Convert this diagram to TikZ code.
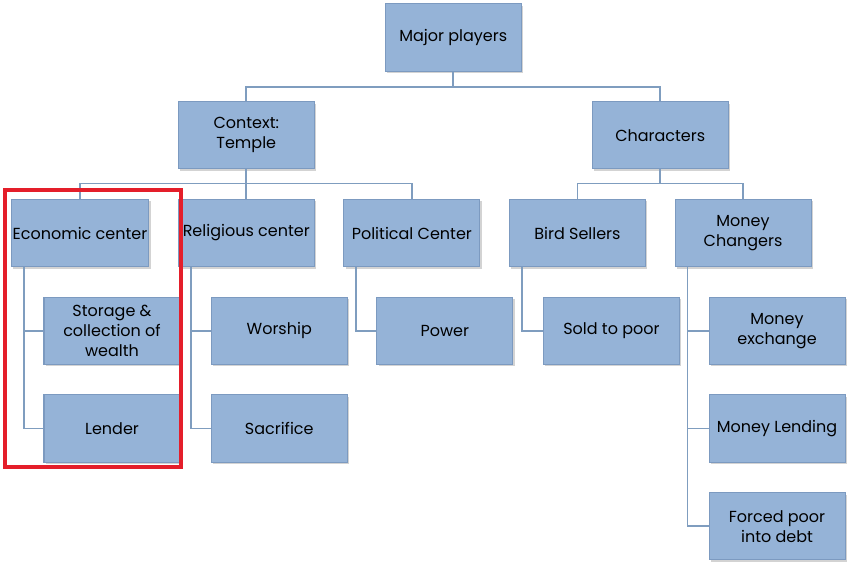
\documentclass[tikz,border=0pt]{standalone}
\usepackage{fontspec}
\setmainfont{Poppins}
\usetikzlibrary{positioning, shadows, calc}

\definecolor{boxblue}{HTML}{95B3D7}
\definecolor{boxedge}{HTML}{7C9AC0}
\definecolor{linkblue}{HTML}{7F9DBF}
\definecolor{markred}{HTML}{E41E2A}

\begin{document}
\begin{tikzpicture}[
x=0.75pt, y=-0.75pt,
node distance=22pt and 21.4pt,
block/.style={
	rectangle,
	draw=boxedge,
	fill=boxblue,
	line width=0.8pt,
	minimum width=102pt,
	minimum height=50.5pt,
	inner xsep=1pt,
	align=center,
	font=\fontsize{12}{15}\selectfont,
	drop shadow={shadow xshift=1.5pt, shadow yshift=-1.5pt, opacity=0.35}
},
link/.style={
	draw=linkblue, line width=1.3pt
}
]
\useasboundingbox (0,0) rectangle (857,566);

% Nodes
\node[block] (econ) at (80,233) {Economic center};
\node[block, right=of econ] (relig) {Religious center};
\node[block, right=of relig] (polit) {Political Center};
\node[block, right=of polit] (bird) {Bird Sellers};
\node[block, right=of bird] (money) {Money\\Changers};

\node[block, above=of relig] (context) {Context:\\Temple};
\coordinate (charpos) at ($(bird.north)!0.5!(money.north)$);
\node[block, above=22pt of charpos, anchor=south] (chars) {Characters};
\coordinate (majpos) at ($(context.north)!0.5!(chars.north)$);
\node[block, above=22pt of majpos, anchor=south] (major) {Major players};

\node[block, below=of econ, xshift=24pt] (storage) {Storage \&\\collection of\\wealth};
\node[block, below=of storage] (lender) {Lender};
\node[block, below=of relig, xshift=24.75pt] (worship) {Worship};
\node[block, below=of worship] (sacrifice) {Sacrifice};
\node[block, below=of polit, xshift=24.75pt] (power) {Power};
\node[block, below=of bird, xshift=25.5pt] (sold) {Sold to poor};
\node[block, below=of money, xshift=25.5pt] (exchange) {Money\\exchange};
\node[block, below=of exchange] (lending) {Money Lending};
\node[block, below=of lending] (debt) {Forced poor\\into debt};

% Lines
\draw[link] (major.south) -- ++(0,15) -| (context.north);
\draw[link] (major.south) -- ++(0,15) -| (chars.north);
\foreach \child in {econ, relig, polit}
	\draw[link] (context.south) -- ++(0,14) -| (\child.north);
\foreach \child in {bird, money}
	\draw[link] (chars.south) -- ++(0,14) -| (\child.north);

\draw[link] ([xshift=9.75pt]econ.south west) |- (storage.west);
\draw[link] ([xshift=9.75pt]econ.south west) |- (lender.west);
\draw[link] ([xshift=9.75pt]relig.south west) |- (worship.west);
\draw[link] ([xshift=9.75pt]relig.south west) |- (sacrifice.west);
\draw[link] ([xshift=9.75pt]polit.south west) |- (power.west);
\draw[link] ([xshift=9.75pt]bird.south west) |- (sold.west);
\draw[link] ([xshift=9.75pt]money.south west) |- (exchange.west);
\draw[link] ([xshift=9.75pt]money.south west) |- (lending.west);
\draw[link] ([xshift=9.75pt]money.south west) |- (debt.west);

% Highlight
\draw[markred, line width=3pt] (5,190) rectangle (181,467);

\end{tikzpicture}
\end{document}
